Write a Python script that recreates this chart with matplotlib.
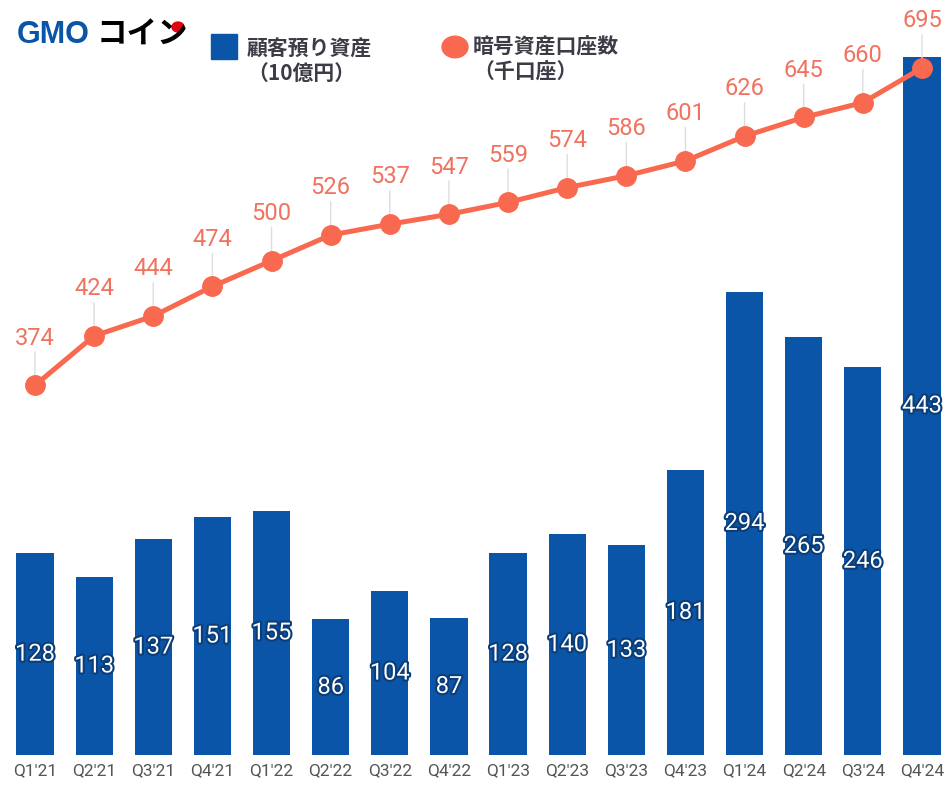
import matplotlib.pyplot as plt
import matplotlib.patheffects as pe
import numpy as np

plt.rcParams['font.family'] = ['Roboto', 'Noto Sans CJK JP', 'DejaVu Sans']

quarters = ["Q1'21", "Q2'21", "Q3'21", "Q4'21", "Q1'22", "Q2'22", "Q3'22", "Q4'22",
            "Q1'23", "Q2'23", "Q3'23", "Q4'23", "Q1'24", "Q2'24", "Q3'24", "Q4'24"]
assets = [128, 113, 137, 151, 155, 86, 104, 87, 128, 140, 133, 181, 294, 265, 246, 443]
accounts = [374, 424, 444, 474, 500, 526, 537, 547, 559, 574, 586, 601, 626, 645, 660, 695]

BLUE = "#0A55A8"
CORAL = "#F9694F"
LABEL_CORAL = "#F0735F"
LEGEND_TXT = "#3C3C46"

fig = plt.figure(figsize=(9.48, 7.85), dpi=100)
ax = fig.add_axes([0, 30 / 785, 1, 735 / 785])
x = np.arange(len(quarters))

ax.bar(x, assets, width=0.63, color=BLUE, zorder=2)
ax.set_xlim((0 - 35) / 59.13, (948 - 35) / 59.13)
ax.set_ylim(0, 735 / 1.5756)

for xi, v in zip(x, assets):
    ax.text(xi, v / 2, str(v), ha="center", va="center", color="white", fontsize=17,
            path_effects=[pe.withStroke(linewidth=3, foreground="#0B3D78")], zorder=4)

ax.set_xticks(x)
ax.set_xticklabels(quarters, fontsize=12.5, color="#555555")
ax.tick_params(axis="x", length=0, pad=6)
ax.set_yticks([])
for s in ax.spines.values():
    s.set_visible(False)

ax2 = ax.twinx()
ax2.set_ylim(0, 735 / 0.9885)
ax2.set_yticks([])
for s in ax2.spines.values():
    s.set_visible(False)
ax2.plot(x, accounts, color=CORAL, lw=3.6, marker="o", markersize=14, zorder=3)
for xi, v in zip(x, accounts):
    ax2.annotate("", xy=(xi, v), xytext=(0, 26), textcoords="offset points",
                 arrowprops=dict(arrowstyle="-", color="#DDDDDD", lw=1), zorder=1)
    ax2.annotate(str(v), xy=(xi, v), xytext=(0, 34), textcoords="offset points",
                 ha="center", va="center", color=LABEL_CORAL, fontsize=17)

# logo
fig.text(17 / 948, 1 - 35 / 785, "GMO", color="#0A55A8", fontsize=22, fontweight="bold",
         va="center", ha="left", family=["Liberation Sans"])
fig.text(97 / 948, 1 - 35 / 785, "コイン", color="black", fontsize=22, fontweight="bold",
         va="center", ha="left", family=["Noto Sans CJK JP"])
fig.patches.append(plt.Circle((178 / 948, 1 - 27 / 785), 6 / 948, color="#E50012",
                              transform=fig.transFigure, figure=fig))

# legend
fig.patches.append(plt.Rectangle((211 / 948, 1 - 59 / 785), 26 / 948, 25 / 785,
                                 color=BLUE, transform=fig.transFigure, figure=fig))
fig.text(247 / 948, 1 - 49 / 785, "顧客預り資産", fontsize=15, color=LEGEND_TXT,
         va="center", ha="left", family=["Noto Sans CJK JP"], fontweight="bold")
fig.text(247 / 948, 1 - 73 / 785, "（10億円）", fontsize=15, color=LEGEND_TXT,
         va="center", ha="left", family=["Noto Sans CJK JP"], fontweight="bold")
fig.patches.append(plt.Circle((455 / 948, 1 - 47 / 785), 13 / 948, color=CORAL,
                              transform=fig.transFigure, figure=fig))
fig.text(473 / 948, 1 - 47 / 785, "暗号資産口座数", fontsize=15, color=LEGEND_TXT,
         va="center", ha="left", family=["Noto Sans CJK JP"], fontweight="bold")
fig.text(473 / 948, 1 - 72 / 785, "（千口座）", fontsize=15, color=LEGEND_TXT,
         va="center", ha="left", family=["Noto Sans CJK JP"], fontweight="bold")

fig.savefig("out.png", dpi=100)
